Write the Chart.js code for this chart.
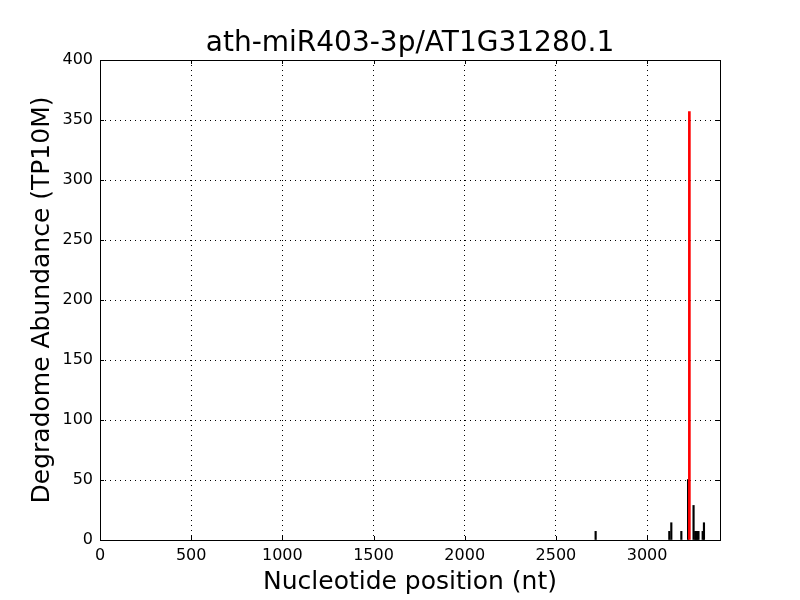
<!DOCTYPE html>
<html>
<head>
<meta charset="utf-8">
<script src="https://cdn.jsdelivr.net/npm/chart.js@4/dist/chart.umd.min.js"></script>
<style>
html,body{margin:0;padding:0;background:#fff;}
#wrap{width:800px;height:600px;}
</style>
</head>
<body>
<div id="wrap"><canvas id="c" width="800" height="600"></canvas></div>
<script>
const chartTitle = "ath-miR403-3p/AT1G31280.1";
const xTitle = "Nucleotide position (nt)";
const yTitle = "Degradome Abundance (TP10M)";
const xTickValues = [0, 500, 1000, 1500, 2000, 2500, 3000];
const yTickValues = [0, 50, 100, 150, 200, 250, 300, 350, 400];
const backgroundPositions = [2718, 3122, 3133, 3188, 3225, 3255, 3264, 3270, 3276, 3282, 3305, 3312];
const backgroundValues = [7.2, 7.2, 14.4, 7.2, 50.4, 28.8, 7.2, 7.2, 7.2, 7.2, 7.2, 14.4];
const sitePositions = [3232];
const siteValues = [357];

const toPoints = (xs, ys) => xs.map((x, i) => ({x: x, y: ys[i]}));
const font = 'DejaVu Sans';

const frame = {
  id: 'frame',
  afterDraw(chart) {
    const a = chart.chartArea, ctx = chart.ctx;
    ctx.save();
    ctx.strokeStyle = '#000';
    ctx.lineWidth = 1;
    ctx.strokeRect(Math.round(a.left) + 0.5, Math.round(a.top) + 0.5, Math.round(a.right - a.left), Math.round(a.bottom - a.top));
    // inward tick marks
    ctx.beginPath();
    const xs = chart.scales.x, ys = chart.scales.y;
    xTickValues.forEach(v => {
      const px = Math.round(xs.getPixelForValue(v)) + 0.5;
      ctx.moveTo(px, a.bottom); ctx.lineTo(px, a.bottom - 4);
      ctx.moveTo(px, a.top); ctx.lineTo(px, a.top + 4);
    });
    yTickValues.forEach(v => {
      const py = Math.round(ys.getPixelForValue(v)) + 0.5;
      ctx.moveTo(a.left, py); ctx.lineTo(a.left + 4, py);
      ctx.moveTo(a.right, py); ctx.lineTo(a.right - 4, py);
    });
    ctx.stroke();
    // title centred over the plot area
    ctx.fillStyle = '#000';
    ctx.font = '28px "' + font + '"';
    ctx.textAlign = 'center';
    ctx.textBaseline = 'middle';
    ctx.fillText(chartTitle, (a.left + a.right) / 2, 44);
    ctx.restore();
  }
};

new Chart(document.getElementById('c'), {
  type: 'bar',
  data: {
    datasets: [
      {data: toPoints(backgroundPositions, backgroundValues), backgroundColor: '#000', borderWidth: 0, barThickness: 1.5, grouped: false, order: 2},
      {data: toPoints(sitePositions, siteValues), backgroundColor: '#ff0000', borderWidth: 0, barThickness: 2, grouped: false, order: 1}
    ]
  },
  options: {
    responsive: false,
    animation: false,
    devicePixelRatio: 1,
    layout: {padding: {left: 0, right: 80, top: 60, bottom: 0}},
    plugins: {
      legend: {display: false},
      tooltip: {enabled: false},
      title: {display: false}
    },
    scales: {
      x: {
        type: 'linear', min: 0, max: 3400, offset: false,
        afterBuildTicks: s => { s.ticks = xTickValues.map(v => ({value: v})); },
        afterFit: s => { s.height = 60; },
        ticks: {color: '#000', font: {family: font, size: 16}, padding: 6, maxRotation: 0, autoSkip: false, callback: v => String(v)},
        grid: {offset: false, drawTicks: false, color: c => (c.tick && c.tick.value > 0) ? '#000' : 'rgba(0,0,0,0)', lineWidth: 1},
        border: {display: false, dash: [1, 4]},
        title: {display: true, text: xTitle, color: '#000', font: {family: font, size: 25}, padding: {top: 0, bottom: 3}}
      },
      y: {
        type: 'linear', min: 0, max: 400,
        afterBuildTicks: s => { s.ticks = yTickValues.map(v => ({value: v})); },
        afterFit: s => { s.width = 100; },
        ticks: {color: '#000', font: {family: font, size: 16}, padding: 7, callback: v => String(v)},
        grid: {offset: false, drawTicks: false, color: c => (c.tick && c.tick.value > 0 && c.tick.value < 400) ? '#000' : 'rgba(0,0,0,0)', lineWidth: 1},
        border: {display: false, dash: [1, 4]},
        title: {display: true, text: yTitle, color: '#000', font: {family: font, size: 25}, padding: {top: 27, bottom: 0}}
      }
    }
  },
  plugins: [frame]
});
</script>
</body>
</html>
